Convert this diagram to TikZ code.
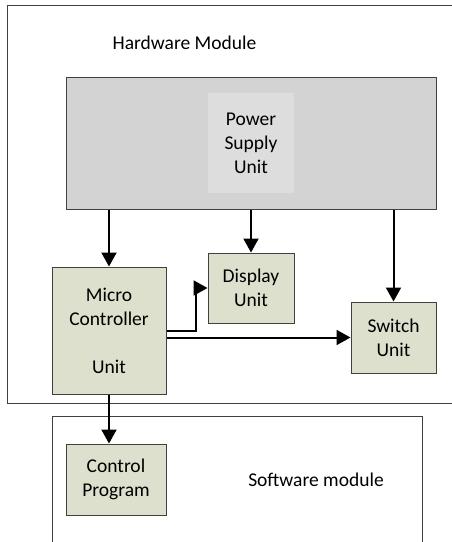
\documentclass[tikz,border=0pt]{standalone}
\usepackage{fontspec}
\setmainfont{Carlito}
\usetikzlibrary{arrows.meta}
\definecolor{unitfill}{RGB}{221,224,204}
\definecolor{psufill}{RGB}{211,211,211}
\definecolor{psuinner}{RGB}{221,221,221}
\definecolor{edgegray}{RGB}{64,64,64}
\begin{document}
\begin{tikzpicture}[x=1pt,y=-1pt,
  font=\fontsize{19.5}{24}\selectfont,
  module/.style={draw=edgegray, line width=1pt, inner sep=0pt},
  unit/.style={draw=edgegray, fill=unitfill, line width=1pt, align=center, inner sep=0pt},
  arr/.style={-{Triangle[length=14pt,width=15pt]}, line width=2pt}]
\useasboundingbox (0,0) rectangle (452,542);
\clip (0,0) rectangle (452,542);
\node[module, minimum width=463pt, minimum height=398pt] (hwmod) at (238.5,204) {};
\node[module, minimum width=370pt, minimum height=144pt] (swmod) at (237,488) {};
\node (hwlabel) at (184.5,43) {Hardware Module};
\node (swlabel) at (316,480) {Software module};
\node[module, fill=psufill, minimum width=370pt, minimum height=132pt] (psu) at (251,143) {};
\node[fill=psuinner, align=center, inner sep=0pt, minimum width=86pt, minimum height=100pt] (psulabel) at (251,143) {Power\\Supply\\Unit};
\node[unit, minimum width=114pt, minimum height=127pt] (mcu) at (109,330.5) {Micro\\Controller\\[24pt]Unit};
\node[unit, minimum width=86pt, minimum height=70pt] (display) at (251,288) {Display\\Unit};
\node[unit, minimum width=85pt, minimum height=71pt] (switch) at (393.5,337.5) {Switch\\Unit};
\node[unit, minimum width=100pt, minimum height=71pt] (ctrl) at (116,479.5) {Control\\Program};
\draw[arr] (psu.south -| mcu.north) -- (mcu.north);
\draw[arr] (psu.south) -- (display.north);
\draw[arr] (psu.south -| switch.north) -- (switch.north);
\draw[arr] (mcu.east) -- ++(29,0) |- (display.west);
\draw[arr] (mcu.east |- switch.west) -- (switch.west);
\draw[arr] (mcu.south) -- (mcu.south |- ctrl.north);
\end{tikzpicture}
\end{document}
